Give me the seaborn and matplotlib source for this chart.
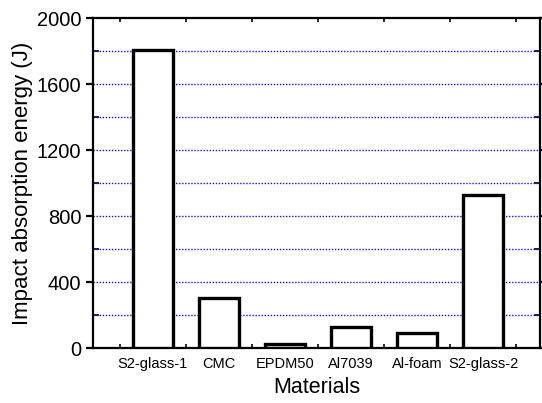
import matplotlib
matplotlib.use("Agg")
import matplotlib.pyplot as plt
import pandas as pd
import seaborn as sns
from matplotlib.ticker import MultipleLocator

materials = ["S2-glass-1", "CMC", "EPDM50", "Al7039", "Al-foam", "S2-glass-2"]
energy = [1805, 305, 25, 130, 90, 930]
y_ticks = [0, 400, 800, 1200, 1600, 2000]

sns.set_theme(style="ticks")
plt.rcParams["font.family"] = ["Liberation Sans", "DejaVu Sans"]
plt.rcParams.update({"text.color": "black", "axes.labelcolor": "black",
                     "xtick.color": "black", "ytick.color": "black"})

df = pd.DataFrame({"material": materials, "energy": energy})

fig = plt.figure(figsize=(5.42, 4.03), dpi=100)
ax = fig.add_axes([0.172, 0.136, 0.824, 0.819])

sns.barplot(data=df, x="material", y="energy", ax=ax, color="white",
            edgecolor="black", linewidth=2.4, width=0.6, zorder=3)

ax.set_ylim(0, 2000)
ax.set_xlim(-0.9, 5.86)
ax.set_yticks(y_ticks)
ax.yaxis.set_minor_locator(MultipleLocator(200))
ax.xaxis.set_minor_locator(MultipleLocator(0.5))
for y in range(200, 2000, 200):
    ax.axhline(y, color="#1010ee", lw=1.0, ls=(0, (1, 1.2)), zorder=1)

for s in ax.spines.values():
    s.set_visible(True)
    s.set_linewidth(1.6)
    s.set_color("black")

ax.tick_params(axis="y", which="major", direction="out", length=5, width=1.6,
               labelsize=14.5, right=True)
ax.tick_params(axis="y", which="minor", direction="in", length=4, width=1.2, right=True)
ax.tick_params(axis="x", which="major", direction="in", length=0, labelsize=10.5, pad=6)
ax.tick_params(axis="x", which="minor", direction="in", length=3, width=1.2, top=True)

ax.set_xlabel("Materials", fontsize=15.5, labelpad=5)
ax.set_ylabel("Impact absorption energy (J)", fontsize=16, labelpad=3)

fig.savefig("out.png", dpi=100)
